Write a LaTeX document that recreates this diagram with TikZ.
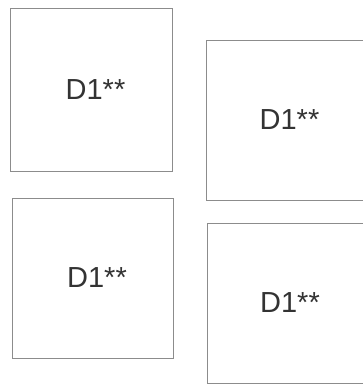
\documentclass[tikz,border=0pt]{standalone}
\usepackage{fontspec}
\setmainfont{Liberation Sans}
\newcommand{\CellLabel}{\hspace*{9pt}D1**}
\newcommand{\CellSide}{160}

\begin{document}
\begin{tikzpicture}[x=1pt,y=-1pt,
 cell/.style={draw=black!45,line width=.8pt,minimum width=\CellSide pt,minimum height=\CellSide pt,
  inner sep=0pt,text=black!80,font=\fontsize{29}{29}\selectfont}]
\useasboundingbox (0,0) rectangle (363,385);
\node[cell,minimum width=162pt,minimum height=163pt] (topleft) at (91,89.5) {\CellLabel};
\node[cell,minimum width=158pt] (topright) at (285,120) {\CellLabel};
\node[cell,minimum width=161pt] (bottomleft) at (92.5,278) {\CellLabel};
\node[cell,minimum width=157pt] (bottomright) at (285.5,303) {\CellLabel};
\end{tikzpicture}
\end{document}
